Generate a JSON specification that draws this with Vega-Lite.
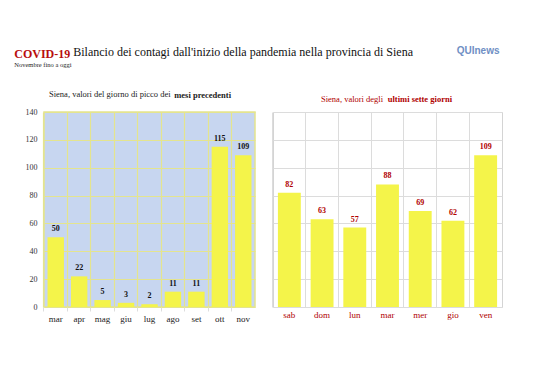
{
  "$schema": "https://vega.github.io/schema/vega-lite/v6.json",
  "background": "white",
  "padding": {"left": 14, "top": 45, "right": 5, "bottom": 5},
  "config": {
    "font": "Liberation Serif",
    "view": {"stroke": null},
    "title": {"font": "Liberation Serif", "subtitleFont": "Liberation Serif"},
    "axis": {"labelFont": "Liberation Serif", "titleFont": "Liberation Serif"},
    "text": {"font": "Liberation Serif"},
    "concat": {"spacing": 16}
  },
  "datasets": {
    "mesi": [
      {"mese": "mar", "valore": 50},
      {"mese": "apr", "valore": 22},
      {"mese": "mag", "valore": 5},
      {"mese": "giu", "valore": 3},
      {"mese": "lug", "valore": 2},
      {"mese": "ago", "valore": 11},
      {"mese": "set", "valore": 11},
      {"mese": "ott", "valore": 115},
      {"mese": "nov", "valore": 109}
    ],
    "giorni": [
      {"giorno": "sab", "valore": 82},
      {"giorno": "dom", "valore": 63},
      {"giorno": "lun", "valore": 57},
      {"giorno": "mar", "valore": 88},
      {"giorno": "mer", "valore": 69},
      {"giorno": "gio", "valore": 62},
      {"giorno": "ven", "valore": 109}
    ]
  },
  "title": {
    "text": "COVID-19",
    "subtitle": "Novembre fino a oggi",
    "anchor": "start",
    "frame": "bounds",
    "dx": -10,
    "dy": 24,
    "font": "Liberation Serif",
    "subtitleFont": "Liberation Serif",
    "color": "#b80d0d",
    "fontSize": 12,
    "fontWeight": "bold",
    "subtitleFontSize": 6.5,
    "subtitleColor": "#222222",
    "subtitlePadding": 1,
    "offset": 0
  },
  "vconcat": [
    {
      "title": {
        "text": "QUInews",
        "anchor": "end",
        "frame": "bounds",
        "dx": -3,
        "dy": 10,
        "font": "Liberation Sans",
        "color": "#6f8fc4",
        "fontSize": 10,
        "fontWeight": "bold",
        "offset": 0
      },
      "vconcat": [
        {
          "title": {
            "text": "Bilancio dei contagi dall'inizio della pandemia nella provincia di Siena",
            "anchor": "start",
            "frame": "bounds",
            "dx": 49,
            "font": "Liberation Serif",
            "color": "#111111",
            "fontSize": 12,
            "fontWeight": "normal",
            "offset": 31
          },
          "hconcat": [
            {
              "title": {
                "text": "Siena, valori del giorno di picco dei",
                "anchor": "start",
                "frame": "group",
                "dx": 5,
                "dy": 9,
                "font": "Liberation Serif",
                "fontSize": 8.5,
                "fontWeight": "normal",
                "color": "#222222",
                "offset": 0
              },
              "vconcat": [
                {
                  "title": {
                    "text": "mesi precedenti",
                    "anchor": "end",
                    "frame": "group",
                    "dx": -24,
                    "font": "Liberation Serif",
                    "fontSize": 8.5,
                    "fontWeight": "bold",
                    "color": "#222222",
                    "offset": 9
                  },
                  "width": 211,
                  "height": 195,
                  "view": {"fill": "#c7d6f0", "stroke": "#e4e48e", "strokeWidth": 1.5},
                  "data": {"name": "mesi"},
                  "encoding": {
                    "x": {
                      "field": "mese",
                      "type": "nominal",
                      "sort": null,
                      "scale": {"paddingInner": 0.3, "paddingOuter": 0.15},
                      "axis": {
                        "title": null,
                        "labelAngle": 0,
                        "labelFont": "Liberation Serif",
                        "labelFontSize": 9,
                        "labelColor": "#222222",
                        "labelPadding": 3,
                        "grid": true,
                        "gridColor": "#e4e48e",
                        "gridWidth": 1.2,
                        "bandPosition": -0.2143,
                        "domain": false,
                        "ticks": true,
                        "tickColor": "#dddddd",
                        "tickSize": 4
                      }
                    },
                    "y": {
                      "field": "valore",
                      "type": "quantitative",
                      "scale": {"domain": [0, 140]},
                      "axis": {
                        "title": null,
                        "values": [0, 20, 40, 60, 80, 100, 120, 140],
                        "labelFont": "Liberation Serif",
                        "labelFontSize": 8,
                        "labelColor": "#333333",
                        "labelPadding": 7,
                        "minExtent": 0,
                        "ticks": false,
                        "domain": false,
                        "grid": true,
                        "gridColor": "#e4e48e",
                        "gridWidth": 1.2
                      }
                    }
                  },
                  "layer": [
                    {"mark": {"type": "bar", "color": "#f4f44a"}},
                    {
                      "mark": {"type": "text", "dy": -8, "font": "Liberation Serif", "fontSize": 8, "fontWeight": "bold", "color": "#111111"},
                      "encoding": {"text": {"field": "valore", "type": "quantitative"}}
                    }
                  ]
                }
              ]
            },
            {
              "title": {
                "text": "Siena, valori degli",
                "anchor": "start",
                "frame": "group",
                "dx": 48,
                "dy": 9,
                "font": "Liberation Serif",
                "fontSize": 8.5,
                "fontWeight": "normal",
                "color": "#b00000",
                "offset": 0
              },
              "vconcat": [
                {
                  "title": {
                    "text": "ultimi sette giorni",
                    "anchor": "end",
                    "frame": "group",
                    "dx": -50,
                    "font": "Liberation Serif",
                    "fontSize": 8.5,
                    "fontWeight": "bold",
                    "color": "#b00000",
                    "offset": 9
                  },
                  "width": 229,
                  "height": 195,
                  "view": {"fill": "white", "stroke": "#d4d4d4", "strokeWidth": 1},
                  "data": {"name": "giorni"},
                  "encoding": {
                    "x": {
                      "field": "giorno",
                      "type": "nominal",
                      "sort": null,
                      "scale": {"paddingInner": 0.3, "paddingOuter": 0.15},
                      "axis": {
                        "title": null,
                        "labelAngle": 0,
                        "labelFont": "Liberation Serif",
                        "labelFontSize": 9,
                        "labelColor": "#b00000",
                        "labelPadding": 3,
                        "grid": true,
                        "gridColor": "#dcdcdc",
                        "bandPosition": -0.2143,
                        "domain": false,
                        "ticks": false
                      }
                    },
                    "y": {
                      "field": "valore",
                      "type": "quantitative",
                      "scale": {"domain": [0, 140]},
                      "axis": {
                        "title": null,
                        "values": [0, 20, 40, 60, 80, 100, 120, 140],
                        "labels": false,
                        "minExtent": 0,
                        "ticks": false,
                        "domain": false,
                        "grid": true,
                        "gridColor": "#dcdcdc"
                      }
                    }
                  },
                  "layer": [
                    {"mark": {"type": "bar", "color": "#f4f44a"}},
                    {
                      "mark": {"type": "text", "dy": -8, "font": "Liberation Serif", "fontSize": 8, "fontWeight": "bold", "color": "#b00000"},
                      "encoding": {"text": {"field": "valore", "type": "quantitative"}}
                    }
                  ]
                }
              ]
            }
          ]
        }
      ]
    }
  ]
}
